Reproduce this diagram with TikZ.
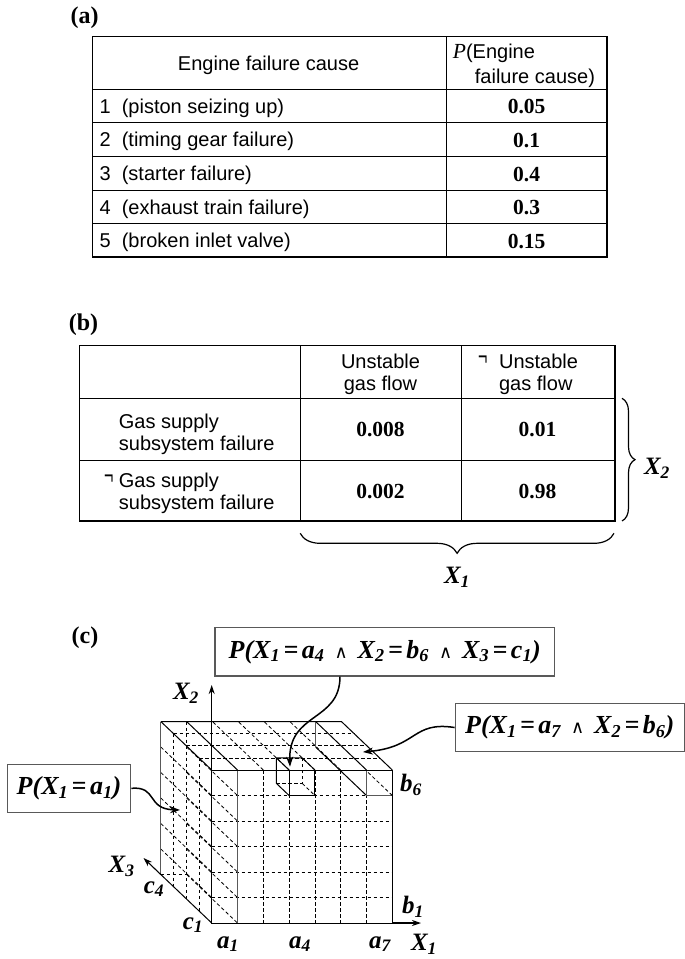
\documentclass[tikz,border=0pt]{standalone}
\usepackage{fontspec}
\usepackage{graphicx}
\setmainfont{Liberation Serif}
\newfontfamily\tabsans{Liberation Sans}
\newfontfamily\symfont{DejaVu Sans}
\usetikzlibrary{arrows.meta,decorations.pathreplacing,calc}
\newcommand\wedg{\hspace{10pt}{\symfont\mdseries\upshape\fontsize{18}{18}\selectfont ∧}\hspace{10pt}}
\newcommand\eqq{\hspace{3.5pt}=\hspace{3.5pt}}
\newcommand\sbb[1]{\textsubscript{#1}}
\newcommand\notsign{\scalebox{0.8}[1.3]{¬}}
\begin{document}
\begin{tikzpicture}[x=1pt,y=-1pt,
  tline/.style={line width=1.2pt},
  plabel/.style={font={\bfseries\fontsize{24}{26}\selectfont}, inner sep=0, anchor=base},
  cell/.style={font={\tabsans\fontsize{20}{22}\selectfont}, inner sep=0, anchor=base west},
  ccell/.style={font={\tabsans\fontsize{20}{22}\selectfont}, inner sep=0, anchor=base},
  num/.style={font={\bfseries\fontsize{21.5}{23}\selectfont}, inner sep=0},
  lbl/.style={font={\bfseries\itshape\fontsize{25}{26}\selectfont}, inner sep=0},
  pbox/.style={draw=gray!70!black, line width=1.2pt, inner sep=0, font={\bfseries\itshape\fontsize{26}{27}\selectfont}},
  brc/.style={line width=1.2pt, decorate},
  edge/.style={line width=1pt, black},
  gedge/.style={line width=1.1pt, draw=gray!70!black},
  dsh/.style={line width=0.8pt, dash pattern=on 3.5pt off 2.5pt, black},
  axis/.style={line width=1.1pt, -{Stealth[length=9pt,width=6pt]}},
  arr/.style={line width=1.5pt, -{Stealth[length=10pt,width=7pt]}}
]
\useasboundingbox (0,0) rectangle (685,959);

% ---------------- (a)
\node[plabel] (la) at (84.6,23.3) {(a)};
\draw[tline] (92.3,36.7) rectangle (607,257);
\draw[tline] (446.2,36.7) -- (446.2,257);
\foreach \y in {89.3,122.3,156.3,190.3,223.3} \draw[tline] (92.3,\y) -- (607,\y);
\node[ccell] (ha) at (268.6,70) {Engine failure cause};
\node[cell] (hp1) at (452.7,58.3) {{\rmfamily\itshape\fontsize{21.5}{23}\selectfont P}(Engine};
\node[cell] (hp2) at (474.7,83.3) {failure cause)};
\node[cell] (r1) at (99.5,113) {1\hspace{11pt}(piston seizing up)};
\node[cell] (r2) at (99.5,146.5) {2\hspace{11pt}(timing gear failure)};
\node[cell] (r3) at (99.5,180.5) {3\hspace{11pt}(starter failure)};
\node[cell] (r4) at (99.5,214) {4\hspace{11pt}(exhaust train failure)};
\node[cell] (r5) at (99.5,247.5) {5\hspace{11pt}(broken inlet valve)};
\node[num] (n1) at (526.6,106.7) {0.05};
\node[num] (n2) at (526.6,140) {0.1};
\node[num] (n3) at (526.6,174) {0.4};
\node[num] (n4) at (526.6,207.5) {0.3};
\node[num] (n5) at (526.6,241) {0.15};

% ---------------- (b)
\node[plabel] (lb) at (83.5,330) {(b)};
\draw[tline] (79.1,345.7) rectangle (615,521);
\draw[tline] (300.2,345.7) -- (300.2,521);
\draw[tline] (461.1,345.7) -- (461.1,521);
\draw[tline] (79.1,398.3) -- (615,398.3);
\draw[tline] (79.1,460.3) -- (615,460.3);
\node[ccell] (u1a) at (380.5,368.3) {Unstable};
\node[ccell] (u1b) at (380.5,390) {gas flow};
\node[cell] (u2n) at (478,365) {\notsign};
\node[cell] (u2a) at (498.9,368.3) {Unstable};
\node[cell] (u2b) at (498.9,390) {gas flow};
\node[cell] (g1a) at (118.7,428.3) {Gas supply};
\node[cell] (g1b) at (118.7,450.7) {subsystem failure};
\node[cell] (g2n) at (104,484.5) {\notsign};
\node[cell] (g2a) at (118.7,487.3) {Gas supply};
\node[cell] (g2b) at (118.7,509.3) {subsystem failure};
\node[num] (m1) at (380.5,429.3) {0.008};
\node[num] (m2) at (537.5,429.3) {0.01};
\node[num] (m3) at (380.5,491.7) {0.002};
\node[num] (m4) at (537.5,491.7) {0.98};
\coordinate (bra) at (622,398.3);
\coordinate (brb) at (622,521);
\draw[brc, decoration={brace,amplitude=13pt}] (bra) -- (brb);
\node[lbl] (bx2) at (657,468) {X\sbb{2}};
\coordinate (brc1) at (614,533.3);
\coordinate (brc2) at (300.2,533.3);
\draw[brc, decoration={brace,amplitude=20pt}] (brc1) -- (brc2);
\node[lbl] (bx1) at (457,577) {X\sbb{1}};

% ---------------- (c)
\node[plabel] (lc) at (85,643.3) {(c)};
\def\fx{211.7}\def\cw{25.8}\def\rh{25.5}\def\ddx{12.7}\def\ddy{12.1}
\coordinate (FTL) at (211.7,770);
\coordinate (FTR) at (392.3,770);
\coordinate (FBL) at (211.7,923);
\coordinate (FBR) at (392.3,923);
\coordinate (BTL) at (160.9,721.6);
\coordinate (BTR) at (341.5,721.6);
\coordinate (BBL) at (160.9,874.6);
% front face interior grid
\foreach \i in {2,...,6} \draw[dsh] ({\fx+\cw*\i},770) -- ({\fx+\cw*\i},923);
\foreach \j in {1,...,5} \draw[dsh] (211.7,{770+\rh*\j}) -- (392.3,{770+\rh*\j});
% top face grid
\foreach \k in {1,2,3} \draw[dsh] ({211.7-\ddx*\k},{770-\ddy*\k}) -- ({392.3-\ddx*\k},{770-\ddy*\k});
\foreach \i in {2,...,5} \draw[dsh] ({\fx+\cw*\i},770) -- ({\fx+\cw*\i-4*\ddx},{770-4*\ddy});
% left face grid
\foreach \k in {1,2,3} \draw[dsh] ({211.7-\ddx*\k},{770-\ddy*\k}) -- ({211.7-\ddx*\k},{923-\ddy*\k});
\foreach \j in {1,...,5} \draw[dsh] (160.9,{721.6+\rh*\j}) -- (211.7,{770+\rh*\j});
% a1 slab hidden lines
\foreach \j in {1,...,6} \draw[dsh] (186.7,{721.6+\rh*\j}) -- (237.5,{770+\rh*\j});
\draw[dsh] (186.7,721.6) -- (186.7,874.6);
\draw[dsh] (BBL) -- (186.7,874.6);
% a1 slab solid lines
\draw[gedge] (237.5,770) -- (237.5,923);
\draw[edge] (186.7,721.6) -- (237.5,770);
\draw[gedge] (BTL) -- (BBL);
% a7 slab
\draw[edge] (315.7,721.6) -- (366.5,770);
\draw[gedge] (315.7,721.6) -- (315.7,747.1);
\draw[edge] (315.7,747.1) -- (366.5,795.5);
\draw[gedge] (366.5,770) -- (366.5,795.5) -- (392.3,795.5);
\draw[dsh] (392.3,795.5) -- (365.5,770);
% small cube a4 b6 c1
\draw[edge] (289.1,770) rectangle (314.9,795.5);
\draw[edge] (289.1,770) -- (276.4,757.9) -- (302.2,757.9) -- (314.9,770);
\draw[edge] (276.4,757.9) -- (276.4,783.4) -- (289.1,795.5);
\draw[dsh] (276.4,783.4) -- (302.2,783.4) -- (302.2,757.9);
\draw[dsh] (302.2,783.4) -- (314.9,795.5);
% outer edges
\draw[edge] (FTL) rectangle (FBR);
\draw[edge] (BTL) -- (BTR) -- (FTR);
\draw[edge] (BTL) -- (FTL);
\draw[edge] (BBL) -- (FBL);
% axes
\coordinate (X2tip) at (211.7,685);
\coordinate (X1tip) at (421,923);
\coordinate (X3tip) at (143.5,858);
\draw[axis] (FTL) -- (X2tip);
\draw[axis] (FBR) -- (X1tip);
\draw[axis] (BBL) -- (X3tip);
% labels
\node[lbl] (lx2) at (186,693) {X\sbb{2}};
\node[lbl] (lx3) at (121.7,866.7) {X\sbb{3}};
\node[lbl] (lx1) at (424,944) {X\sbb{1}};
\node[lbl] (lc4) at (154,889) {c\sbb{4}};
\node[lbl] (lc1) at (193,925) {c\sbb{1}};
\node[lbl] (la1) at (228,944) {a\sbb{1}};
\node[lbl] (la4) at (300,944) {a\sbb{4}};
\node[lbl] (la7) at (380,944) {a\sbb{7}};
\node[lbl] (lb1) at (413,907) {b\sbb{1}};
\node[lbl] (lb6) at (411,785) {b\sbb{6}};
% boxes
\node[pbox, minimum width=339.3pt, minimum height=48.3pt] (box1) at (384.7,651.8)
  {P(X\sbb{1}\eqq a\sbb{4}\wedg X\sbb{2}\eqq b\sbb{6}\wedg X\sbb{3}\eqq c\sbb{1})};
\node[pbox, minimum width=229pt, minimum height=48.4pt] (box2) at (569.7,727.5)
  {P(X\sbb{1}\eqq a\sbb{7}\wedg X\sbb{2}\eqq b\sbb{6})};
\node[pbox, minimum width=123.4pt, minimum height=48pt] (box3) at (69,788.3)
  {P(X\sbb{1}\eqq a\sbb{1})};
% pointer arrows
\coordinate (t1) at (290,766.7);
\coordinate (t2) at (363,752);
\coordinate (t3) at (180,810);
\draw[arr] ($(box1.south)+(-44.7,0)$) .. controls (340,722) and (288,712) .. (t1);
\draw[arr] (box2.west) .. controls (412,721) and (418,747) .. (t2);
\draw[arr] (box3.east) .. controls (158,786) and (146,809) .. (t3);
\end{tikzpicture}
\end{document}
